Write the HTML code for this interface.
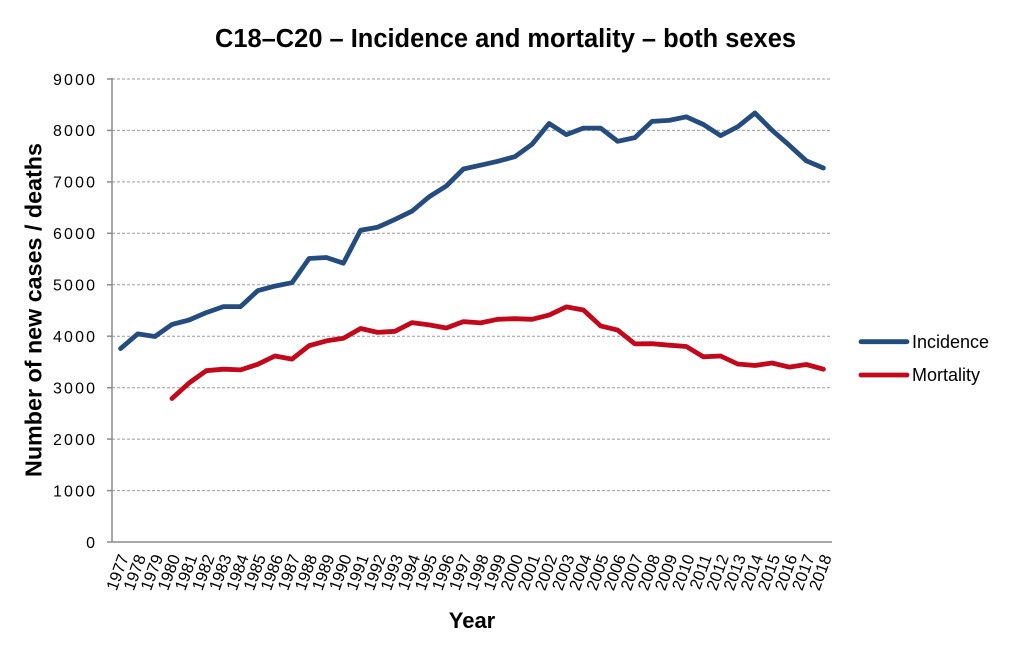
<!DOCTYPE html>
<html>
<head>
<meta charset="utf-8">
<style>
  html,body{margin:0;padding:0;background:#fff;}
  svg{display:block;}
  text{font-family:"Liberation Sans",Arial,sans-serif;fill:#000;}
</style>
</head>
<body>
<svg width="1010" height="649" viewBox="0 0 1010 649" xmlns="http://www.w3.org/2000/svg">
  <rect width="1010" height="649" fill="#fff"/>
  <!-- Title -->
  <text x="505.5" y="47" text-anchor="middle" font-size="25.5" font-weight="bold" textLength="581" lengthAdjust="spacingAndGlyphs">C18–C20 – Incidence and mortality – both sexes</text>

  <!-- Gridlines -->
  <g stroke="#9a9a9a" stroke-width="1" stroke-dasharray="3,2" fill="none">
    <line x1="112" y1="79" x2="832" y2="79"/>
    <line x1="112" y1="130.4" x2="832" y2="130.4"/>
    <line x1="112" y1="181.9" x2="832" y2="181.9"/>
    <line x1="112" y1="233.3" x2="832" y2="233.3"/>
    <line x1="112" y1="284.8" x2="832" y2="284.8"/>
    <line x1="112" y1="336.2" x2="832" y2="336.2"/>
    <line x1="112" y1="387.7" x2="832" y2="387.7"/>
    <line x1="112" y1="439.1" x2="832" y2="439.1"/>
    <line x1="112" y1="490.6" x2="832" y2="490.6"/>
  </g>

  <!-- Axes -->
  <g stroke="#8c8c8c" stroke-width="1.5" fill="none">
    <line x1="112" y1="78" x2="112" y2="542"/>
    <line x1="107" y1="542" x2="832" y2="542"/>
    <line x1="107" y1="79" x2="112" y2="79"/>
    <line x1="107" y1="130.4" x2="112" y2="130.4"/>
    <line x1="107" y1="181.9" x2="112" y2="181.9"/>
    <line x1="107" y1="233.3" x2="112" y2="233.3"/>
    <line x1="107" y1="284.8" x2="112" y2="284.8"/>
    <line x1="107" y1="336.2" x2="112" y2="336.2"/>
    <line x1="107" y1="387.7" x2="112" y2="387.7"/>
    <line x1="107" y1="439.1" x2="112" y2="439.1"/>
    <line x1="107" y1="490.6" x2="112" y2="490.6"/>
  </g>

  <!-- Y tick labels -->
  <g font-size="16" text-anchor="end">
    <text x="95" y="84.8" textLength="42" lengthAdjust="spacing">9000</text>
    <text x="95" y="136.2" textLength="42" lengthAdjust="spacing">8000</text>
    <text x="95" y="187.7" textLength="42" lengthAdjust="spacing">7000</text>
    <text x="95" y="239.1" textLength="42" lengthAdjust="spacing">6000</text>
    <text x="95" y="290.6" textLength="42" lengthAdjust="spacing">5000</text>
    <text x="95" y="342.0" textLength="42" lengthAdjust="spacing">4000</text>
    <text x="95" y="393.5" textLength="42" lengthAdjust="spacing">3000</text>
    <text x="95" y="444.9" textLength="42" lengthAdjust="spacing">2000</text>
    <text x="95" y="496.4" textLength="42" lengthAdjust="spacing">1000</text>
    <text x="95" y="547.8">0</text>
  </g>

  <!-- Y axis title -->
  <text transform="translate(41.5,310) rotate(-90)" text-anchor="middle" font-size="23" font-weight="bold" textLength="334" lengthAdjust="spacingAndGlyphs">Number of new cases / deaths</text>

  <!-- X tick labels -->
  <g font-size="16.5" text-anchor="end">
    <text transform="translate(123.6,555) rotate(-70)" dy="0.35em">1977</text>
    <text transform="translate(140.7,555) rotate(-70)" dy="0.35em">1978</text>
    <text transform="translate(157.9,555) rotate(-70)" dy="0.35em">1979</text>
    <text transform="translate(175.0,555) rotate(-70)" dy="0.35em">1980</text>
    <text transform="translate(192.1,555) rotate(-70)" dy="0.35em">1981</text>
    <text transform="translate(209.3,555) rotate(-70)" dy="0.35em">1982</text>
    <text transform="translate(226.4,555) rotate(-70)" dy="0.35em">1983</text>
    <text transform="translate(243.6,555) rotate(-70)" dy="0.35em">1984</text>
    <text transform="translate(260.7,555) rotate(-70)" dy="0.35em">1985</text>
    <text transform="translate(277.9,555) rotate(-70)" dy="0.35em">1986</text>
    <text transform="translate(295.0,555) rotate(-70)" dy="0.35em">1987</text>
    <text transform="translate(312.1,555) rotate(-70)" dy="0.35em">1988</text>
    <text transform="translate(329.3,555) rotate(-70)" dy="0.35em">1989</text>
    <text transform="translate(346.4,555) rotate(-70)" dy="0.35em">1990</text>
    <text transform="translate(363.6,555) rotate(-70)" dy="0.35em">1991</text>
    <text transform="translate(380.7,555) rotate(-70)" dy="0.35em">1992</text>
    <text transform="translate(397.9,555) rotate(-70)" dy="0.35em">1993</text>
    <text transform="translate(415.0,555) rotate(-70)" dy="0.35em">1994</text>
    <text transform="translate(432.1,555) rotate(-70)" dy="0.35em">1995</text>
    <text transform="translate(449.3,555) rotate(-70)" dy="0.35em">1996</text>
    <text transform="translate(466.4,555) rotate(-70)" dy="0.35em">1997</text>
    <text transform="translate(483.6,555) rotate(-70)" dy="0.35em">1998</text>
    <text transform="translate(500.7,555) rotate(-70)" dy="0.35em">1999</text>
    <text transform="translate(517.9,555) rotate(-70)" dy="0.35em">2000</text>
    <text transform="translate(535.0,555) rotate(-70)" dy="0.35em">2001</text>
    <text transform="translate(552.1,555) rotate(-70)" dy="0.35em">2002</text>
    <text transform="translate(569.3,555) rotate(-70)" dy="0.35em">2003</text>
    <text transform="translate(586.4,555) rotate(-70)" dy="0.35em">2004</text>
    <text transform="translate(603.6,555) rotate(-70)" dy="0.35em">2005</text>
    <text transform="translate(620.7,555) rotate(-70)" dy="0.35em">2006</text>
    <text transform="translate(637.9,555) rotate(-70)" dy="0.35em">2007</text>
    <text transform="translate(655.0,555) rotate(-70)" dy="0.35em">2008</text>
    <text transform="translate(672.1,555) rotate(-70)" dy="0.35em">2009</text>
    <text transform="translate(689.3,555) rotate(-70)" dy="0.35em">2010</text>
    <text transform="translate(706.4,555) rotate(-70)" dy="0.35em">2011</text>
    <text transform="translate(723.6,555) rotate(-70)" dy="0.35em">2012</text>
    <text transform="translate(740.7,555) rotate(-70)" dy="0.35em">2013</text>
    <text transform="translate(757.9,555) rotate(-70)" dy="0.35em">2014</text>
    <text transform="translate(775.0,555) rotate(-70)" dy="0.35em">2015</text>
    <text transform="translate(792.1,555) rotate(-70)" dy="0.35em">2016</text>
    <text transform="translate(809.3,555) rotate(-70)" dy="0.35em">2017</text>
    <text transform="translate(826.4,555) rotate(-70)" dy="0.35em">2018</text>
  </g>

  <!-- X axis title -->
  <text x="472" y="628" text-anchor="middle" font-size="22" font-weight="bold">Year</text>

  <!-- Incidence -->
  <polyline fill="none" stroke="#244C7E" stroke-width="4.8" stroke-linejoin="round" stroke-linecap="round"
    points="120.6,348.6 137.7,333.9 154.9,336.5 172.0,324.4 189.1,320.0 206.3,312.6 223.4,306.6 240.6,306.6 257.7,290.7 274.9,286.1 292.0,282.7 309.1,258.5 326.3,257.5 343.4,263.2 360.6,230.2 377.7,227.2 394.9,219.4 412.0,211.2 429.1,196.8 446.3,186.0 463.4,169.0 480.6,165.2 497.7,161.3 514.9,156.7 532.0,144.3 549.1,123.5 566.3,134.6 583.4,128.1 600.6,128.1 617.7,141.3 634.9,137.6 652.0,121.4 669.1,120.4 686.3,116.8 703.4,124.5 720.6,135.6 737.7,126.8 754.9,113.0 772.0,130.2 789.1,145.1 806.3,160.8 823.4,168.0"/>

  <!-- Mortality -->
  <polyline fill="none" stroke="#C3081B" stroke-width="4.8" stroke-linejoin="round" stroke-linecap="round"
    points="172.0,398.5 189.1,383.0 206.3,370.7 223.4,369.2 240.6,369.9 257.7,364.3 274.9,356.0 292.0,359.1 309.1,345.7 326.3,340.9 343.4,338.3 360.6,328.5 377.7,332.4 394.9,331.3 412.0,322.6 429.1,324.9 446.3,328.0 463.4,321.6 480.6,322.9 497.7,319.3 514.9,318.7 532.0,319.3 549.1,315.1 566.3,306.9 583.4,310.0 600.6,325.9 617.7,330.1 634.9,343.9 652.0,343.7 669.1,345.2 686.3,346.5 703.4,356.8 720.6,356.0 737.7,364.0 754.9,365.5 772.0,363.0 789.1,367.1 806.3,364.5 823.4,369.2"/>

  <!-- Legend -->
  <line x1="861" y1="341.7" x2="907" y2="341.7" stroke="#244C7E" stroke-width="4.8" stroke-linecap="round"/>
  <line x1="861" y1="375" x2="907" y2="375" stroke="#C3081B" stroke-width="4.8" stroke-linecap="round"/>
  <text x="912" y="347.8" font-size="18">Incidence</text>
  <text x="912" y="381" font-size="18">Mortality</text>
</svg>
</body>
</html>
